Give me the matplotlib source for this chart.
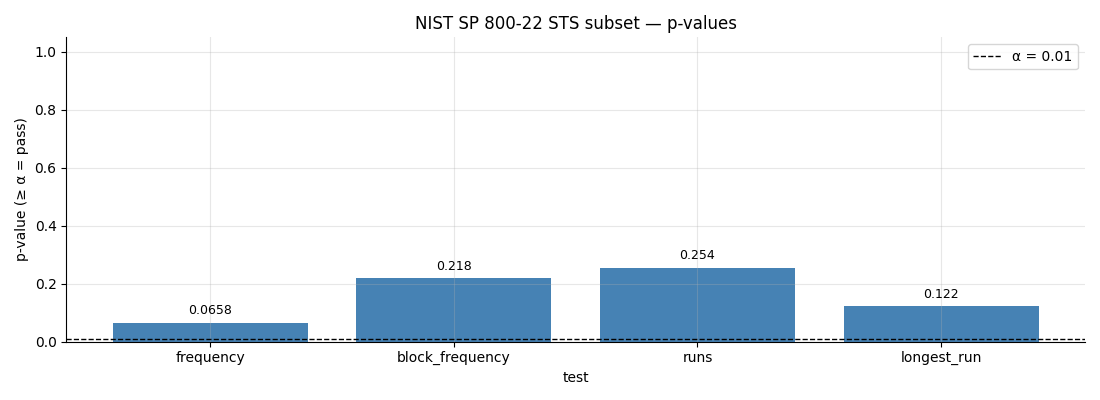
import matplotlib
matplotlib.use("Agg")
import matplotlib.pyplot as plt

tests = ["frequency", "block_frequency", "runs", "longest_run"]
pvalues = [0.0658, 0.218, 0.254, 0.122]
labels = ["0.0658", "0.218", "0.254", "0.122"]
alpha = 0.01

fig, ax = plt.subplots(figsize=(11, 4), dpi=100)
bars = ax.bar(tests, pvalues, width=0.8, color="steelblue")
ax.axhline(alpha, color="black", linestyle="--", linewidth=1, label="α = 0.01")
for b, lab in zip(bars, labels):
    ax.annotate(lab, (b.get_x() + b.get_width() / 2, b.get_height()),
                xytext=(0, 4), textcoords="offset points",
                ha="center", va="bottom", fontsize=9)
ax.set_ylim(0, 1.05)
ax.set_title("NIST SP 800-22 STS subset — p-values")
ax.set_xlabel("test")
ax.set_ylabel("p-value (≥ α = pass)")
ax.grid(True, alpha=0.3)
ax.spines["top"].set_visible(False)
ax.spines["right"].set_visible(False)
ax.legend(loc="upper right")
fig.tight_layout()
fig.savefig("out.png")
